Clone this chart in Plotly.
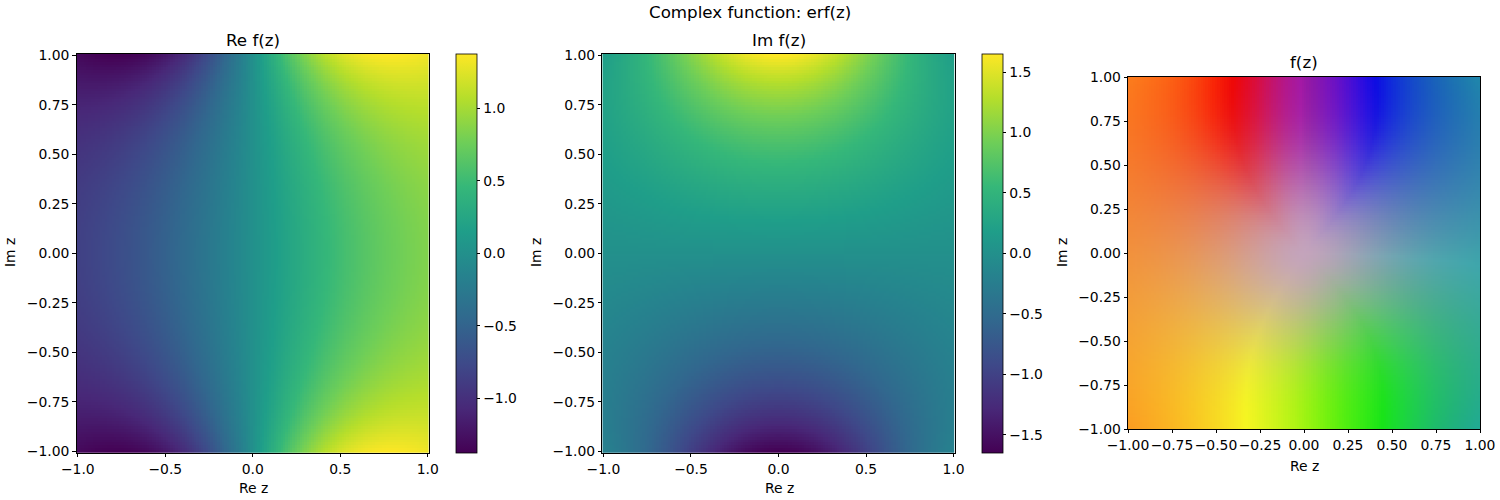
import numpy as np
import plotly.graph_objects as go

# ---------------- data ----------------
N = 150
re_z = np.linspace(-1.0, 1.0, N)          # Re z grid
im_z = np.linspace(-1.0, 1.0, N)          # Im z grid

x_ticks_12 = [-1.0, -0.5, 0.0, 0.5, 1.0]
y_ticks = [-1.0, -0.75, -0.5, -0.25, 0.0, 0.25, 0.5, 0.75, 1.0]
x_ticks_3 = [-1.0, -0.75, -0.5, -0.25, 0.0, 0.25, 0.5, 0.75, 1.0]
cb1_ticks = [-1.0, -0.5, 0.0, 0.5, 1.0]
cb2_ticks = [-1.5, -1.0, -0.5, 0.0, 0.5, 1.0, 1.5]

suptitle = "Complex function: erf(z)"
titles = ["Re f(z)", "Im f(z)", "f(z)"]

# phase (deg) -> hue (deg) table
arg_pts = [-180, -127, -90, -44, -20, 0, 20, 49, 90, 121, 150, 180]
hue_pts = [30, 58, 82, 120, 150, 184, 212, 240, 295, 352, 375, 390]
# hue -> lightness / saturation at full strength
hue_tab = [0, 30, 60, 90, 120, 158, 185, 210, 240, 270, 295, 330, 360]
light_tab = [0.48, 0.56, 0.55, 0.50, 0.50, 0.40, 0.38, 0.40, 0.48, 0.42, 0.36, 0.42, 0.48]
sat_tab = [0.95, 1.0, 0.92, 0.92, 0.82, 0.72, 0.70, 0.76, 0.92, 0.85, 0.72, 0.82, 0.95]
neutral_rgb = [196, 164, 188]


def erf_complex(z, nterms=60):
    total = np.zeros_like(z)
    term = z.copy()
    z2 = z * z
    for n in range(nterms):
        total = total + term / (2 * n + 1)
        term = term * (-z2) / (n + 1)
    return 2.0 / np.sqrt(np.pi) * total


X, Y = np.meshgrid(re_z, im_z)
Z = X + 1j * Y
F = erf_complex(Z)
ReF = F.real
ImF = F.imag


def hls_rgb(h, l, s):
    c = (1 - np.abs(2 * l - 1)) * s
    hp = (h % 360) / 60.0
    xx = c * (1 - np.abs(hp % 2 - 1))
    m = l - c / 2
    r = np.zeros_like(h); g = np.zeros_like(h); b = np.zeros_like(h)
    sec = np.floor(hp).astype(int) % 6
    zero = 0 * c
    conds = [(c, xx, zero), (xx, c, zero), (zero, c, xx),
             (zero, xx, c), (xx, zero, c), (c, zero, xx)]
    for k, (rr, gg, bb) in enumerate(conds):
        msk = sec == k
        r[msk] = rr[msk]; g[msk] = gg[msk]; b[msk] = bb[msk]
    return np.stack([r + m, g + m, b + m], axis=-1)


theta = np.degrees(np.angle(F))
mag = np.abs(F)
offs = np.linspace(-10, 10, 11)
hs = 0; hc = 0
for o in offs:
    t = (theta + o + 180) % 360 - 180
    hh = np.radians(np.interp(t, arg_pts, hue_pts))
    hs = hs + np.sin(hh); hc = hc + np.cos(hh)
hue = np.degrees(np.arctan2(hs, hc)) % 360
Lf = 0; Sf = 0
for o in offs:
    hh = (hue + o) % 360
    Lf = Lf + np.interp(hh, hue_tab, light_tab)
    Sf = Sf + np.interp(hh, hue_tab, sat_tab)
Lf = Lf / len(offs); Sf = Sf / len(offs)
full = hls_rgb(hue, Lf, Sf) * 255.0
w = np.tanh((1.25 * mag) ** 1.5)[..., None]
rgb = full * w + np.array(neutral_rgb, dtype=float) * (1 - w)
rgb = np.clip(rgb, 0, 255).astype(np.uint8)

# ---------------- figure ----------------
W, H = 1500, 500
FONT = "DejaVu Sans"


def px(x):
    return x / W


def py(y):
    return 1 - y / H


fig = go.Figure()

half = 1.0 / (N - 1)
cb_common = dict(thickness=21, len=(452.7 - 54) / H, lenmode="fraction",
                 y=py((452.7 + 54) / 2), yanchor="middle", xanchor="left",
                 xpad=0, ypad=0, outlinewidth=0.8, outlinecolor="black",
                 ticks="outside", ticklen=3.5, tickwidth=0.8, tickcolor="black",
                 tickformat=".1f", tickfont=dict(family=FONT, size=13.9, color="black"))

fig.add_trace(go.Heatmap(x=re_z, y=im_z, z=ReF, colorscale="Viridis",
                         zmin=float(ReF.min()), zmax=float(ReF.max()),
                         xaxis="x", yaxis="y",
                         colorbar=dict(x=px(456), tickvals=cb1_ticks, **cb_common)))
fig.add_trace(go.Heatmap(x=re_z, y=im_z, z=ImF, colorscale="Viridis",
                         zmin=float(ImF.min()), zmax=float(ImF.max()),
                         xaxis="x2", yaxis="y2",
                         colorbar=dict(x=px(982), tickvals=cb2_ticks, **cb_common)))
dx = 2.0 / N
fig.add_trace(go.Image(z=rgb, x0=-1 + dx / 2, dx=dx, y0=-1 + dx / 2, dy=dx,
                       colormodel="rgb", xaxis="x3", yaxis="y3"))

ax_common = dict(showline=True, mirror=True, linecolor="black", linewidth=0.8,
                 ticks="outside", ticklen=3.5, tickwidth=0.8, tickcolor="black",
                 showgrid=False, zeroline=False, automargin=False, tickangle=0,
                 tickfont=dict(family=FONT, size=13.9, color="black"))

yd12 = [py(452.7), py(54)]
fig.update_layout(
    width=W, height=H, margin=dict(l=0, r=0, t=0, b=0, pad=0, autoexpand=False),
    paper_bgcolor="white", plot_bgcolor="white", showlegend=False,
    xaxis=dict(domain=[px(76.6), px(429)], range=[-1 - half, 1 + half],
               tickvals=x_ticks_12, tickformat=".1f", anchor="y", **ax_common),
    yaxis=dict(domain=yd12, range=[-1 - half, 1 + half],
               tickvals=y_ticks, tickformat=".2f", anchor="x", **ax_common),
    xaxis2=dict(domain=[px(602.3), px(954.7)], range=[-1 - half, 1 + half],
                tickvals=x_ticks_12, tickformat=".1f", anchor="y2", **ax_common),
    yaxis2=dict(domain=yd12, range=[-1 - half, 1 + half],
                tickvals=y_ticks, tickformat=".2f", anchor="x2", **ax_common),
    xaxis3=dict(domain=[px(1128), px(1480)], range=[-1, 1],
                tickvals=x_ticks_3, tickformat=".2f", anchor="y3", **ax_common),
    yaxis3=dict(domain=[py(430), py(76)], range=[-1, 1], autorange=False,
                tickvals=y_ticks, tickformat=".2f", anchor="x3", **ax_common),
)

ann = []


def add_text(text, x, y, size, angle=0):
    ann.append(dict(text=text, x=px(x), y=py(y), xref="paper", yref="paper",
                    xanchor="center", yanchor="middle", showarrow=False,
                    textangle=angle, font=dict(family=FONT, size=size, color="black")))


add_text(suptitle, 750, 12, 16.7)
add_text(titles[0], 253, 40, 16.7)
add_text(titles[1], 779, 40, 16.7)
add_text(titles[2], 1304, 62, 16.7)
for xc in (253, 779):
    add_text("Re z", xc, 488, 13.9)
add_text("Re z", 1304, 466, 13.9)
for xc in (10, 536, 1062):
    add_text("Im z", xc, 253, 13.9, angle=-90)
fig.update_layout(annotations=ann)

fig.write_html("out.html", config={"displayModeBar": False},
               post_script="document.body.style.margin='0px';"
                           "document.body.style.padding='0px';"
                           "document.body.style.overflow='hidden';")
